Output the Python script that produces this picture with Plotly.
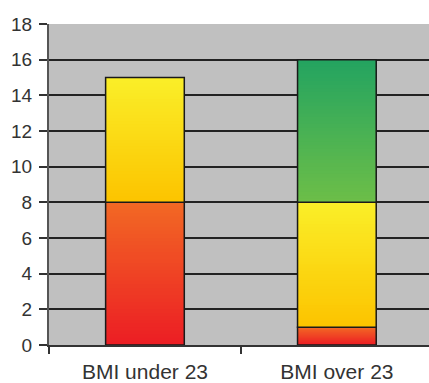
import plotly.graph_objects as go

categories = ["BMI under 23", "BMI over 23"]
red_vals = [8, 1]
yellow_vals = [7, 7]
green_vals = [0, 8]
y_ticks = [0, 2, 4, 6, 8, 10, 12, 14, 16, 18]

# gradient colours (bottom, top) per series -- styling only
series = [
    (red_vals, (236, 30, 36), (242, 104, 36)),
    (yellow_vals, (252, 196, 0), (250, 238, 40)),
    (green_vals, (108, 190, 72), (36, 164, 96)),
]

N = 40
BAR_W = 0.41
fig = go.Figure()

bases = [0.0] * len(categories)
for vals, c0, c1 in series:
    for ci, cat in enumerate(categories):
        v = vals[ci]
        if v <= 0:
            continue
        b0 = bases[ci]
        top = b0 + v
        for i in range(N):
            t = i / (N - 1)
            col = tuple(round(c0[k] + (c1[k] - c0[k]) * t) for k in range(3))
            start = b0 + v * i / N
            fig.add_trace(go.Bar(
                x=[cat], y=[top - start], base=[start], width=BAR_W,
                marker=dict(color="rgb(%d,%d,%d)" % col, line=dict(width=0)),
                showlegend=False, hoverinfo="skip"))
        fig.add_trace(go.Bar(
            x=[cat], y=[v], base=[b0], width=BAR_W,
            marker=dict(color="rgba(0,0,0,0)", line=dict(color="#1a1a1a", width=1.5)),
            showlegend=False))
    bases = [bases[i] + vals[i] for i in range(len(categories))]

fig.update_layout(
    width=429, height=383,
    barmode="overlay",
    margin=dict(l=49, r=0, t=24, b=38, autoexpand=False),
    paper_bgcolor="white",
    plot_bgcolor="#c0c0c0",
    font=dict(family="Liberation Sans, Arial, sans-serif", color="#333333"),
    xaxis=dict(
        type="category", categoryorder="array", categoryarray=categories,
        range=[-0.5, 1.48], automargin=False,
        tickson="boundaries", ticks="outside", ticklen=7, tickwidth=2, tickcolor="#333333",
        showline=True, linecolor="#333333", linewidth=2,
        showgrid=False, tickfont=dict(size=21), ticklabelstandoff=7,
    ),
    yaxis=dict(
        range=[0, 18], tickvals=y_ticks, automargin=False,
        ticks="outside", ticklen=8, tickwidth=2, tickcolor="#333333",
        showline=True, linecolor="#555555", linewidth=2,
        showgrid=True, gridcolor="#222222", gridwidth=2,
        zeroline=False, tickfont=dict(size=19), ticklabelstandoff=3,
    ),
)

fig.write_html("out.html", config={"displayModeBar": False},
               post_script="document.body.style.margin='0';")
